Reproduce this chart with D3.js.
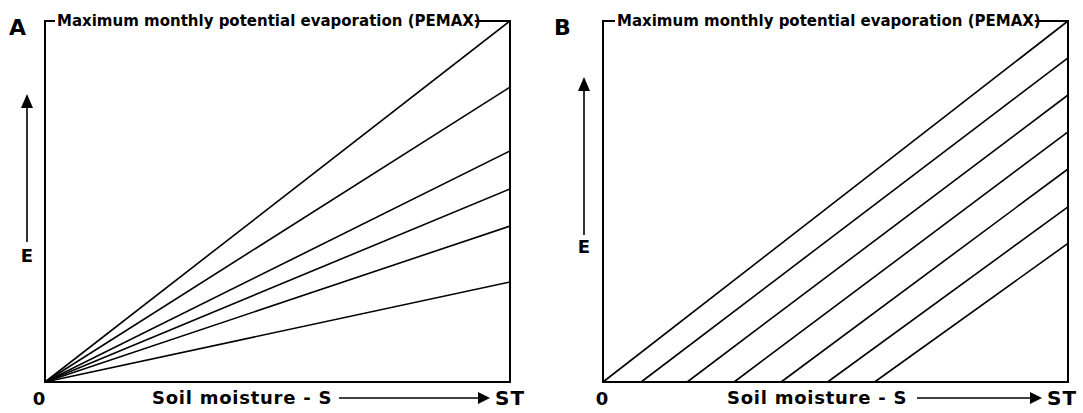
<!DOCTYPE html>
<html>
<head>
<meta charset="utf-8">
<script src="https://cdn.jsdelivr.net/npm/d3@7"></script>
<style>
  body { margin: 0; background: #fff; }
  svg { display: block; }
  text { font-family: "DejaVu Sans", Verdana, sans-serif; font-weight: bold; fill: #000; }
</style>
</head>
<body>
<svg id="chart" width="1083" height="413"></svg>
<script>
// Panel A: E grows linearly from S = 0 and reaches these fractions of PEMAX at S = ST
const aEndFractions = [1.0, 0.817, 0.64, 0.535, 0.432, 0.277];
// Panel B: parallel lines, each starting at a soil-moisture threshold (fraction of ST)
const bStartFractions = [0, 0.082, 0.181, 0.282, 0.383, 0.483, 0.584];
// ... and reaching these fractions of PEMAX at S = ST
const bEndFractions = [1.0, 0.898, 0.795, 0.693, 0.590, 0.485, 0.384];

const panelLetters = ["A", "B"];
const topLabel = "Maximum monthly potential evaporation (PEMAX)";
const xLabel = "Soil moisture - S";
const yLabel = "E";
const xStartLabel = "0";
const xEndLabel = "ST";

const aSeries = aEndFractions.map(f => [{ s: 0, e: 0 }, { s: 1, e: f }]);
const bSeries = bStartFractions.map((s0, i) => [{ s: s0, e: 0 }, { s: 1, e: bEndFractions[i] }]);

// layout for each panel
const panels = [
  { letter: panelLetters[0], series: aSeries, left: 45, right: 510, top: 21, bottom: 382,
    letterX: 9, titleX: 57, yArrowX: 27, yArrowTop: 94, yArrowBottom: 242, eY: 262,
    zeroX: 39, xLabelX: 152, xArrowStart: 339, xArrowEnd: 490, stX: 495 },
  { letter: panelLetters[1], series: bSeries, left: 603, right: 1068, top: 21, bottom: 382,
    letterX: 554, titleX: 617, yArrowX: 584, yArrowTop: 77, yArrowBottom: 235, eY: 253,
    zeroX: 602, xLabelX: 727, xArrowStart: 917, xArrowEnd: 1042, stX: 1047 }
];

const svg = d3.select("#chart");

panels.forEach(p => {
  const g = svg.append("g");
  const x = d3.scaleLinear().domain([0, 1]).range([p.left, p.right]);
  const y = d3.scaleLinear().domain([0, 1]).range([p.bottom, p.top]);
  const line = d3.line().x(d => x(d.s)).y(d => y(d.e));

  // E(S) lines
  g.selectAll("path.curve").data(p.series).join("path")
    .attr("class", "curve")
    .attr("d", line)
    .attr("fill", "none")
    .attr("stroke", "#000")
    .attr("stroke-width", 1.6);

  // frame
  g.append("rect")
    .attr("x", x(0)).attr("y", y(1))
    .attr("width", x(1) - x(0)).attr("height", y(0) - y(1))
    .attr("fill", "none").attr("stroke", "#000").attr("stroke-width", 2);

  // title on the top edge, with a white backing so the frame line breaks behind it
  const title = g.append("text")
    .attr("x", p.titleX).attr("y", 26)
    .attr("font-size", 15)
    .text(topLabel);
  const tw = title.node().getComputedTextLength();
  g.insert("rect", "text")
    .attr("x", p.titleX - 2).attr("y", 10)
    .attr("width", tw - 4).attr("height", 16)
    .attr("fill", "#fff");

  // panel letter
  g.append("text").attr("x", p.letterX).attr("y", 35)
    .attr("font-size", 22).text(p.letter);

  // vertical E arrow
  g.append("line")
    .attr("x1", p.yArrowX).attr("x2", p.yArrowX)
    .attr("y1", p.yArrowBottom).attr("y2", p.yArrowTop + 10)
    .attr("stroke", "#000").attr("stroke-width", 1.6);
  g.append("path")
    .attr("d", `M${p.yArrowX},${p.yArrowTop} L${p.yArrowX - 6},${p.yArrowTop + 14} L${p.yArrowX + 6},${p.yArrowTop + 14} Z`)
    .attr("fill", "#000");
  g.append("text").attr("x", p.yArrowX).attr("y", p.eY)
    .attr("text-anchor", "middle").attr("font-size", 18).text(yLabel);

  // bottom labels
  g.append("text").attr("x", p.zeroX).attr("y", 405)
    .attr("text-anchor", "middle").attr("font-size", 18).text(xStartLabel);
  g.append("text").attr("x", p.xLabelX).attr("y", 404)
    .attr("font-size", 18).attr("letter-spacing", 0.75).text(xLabel);
  g.append("line")
    .attr("x1", p.xArrowStart).attr("x2", p.xArrowEnd - 10)
    .attr("y1", 398).attr("y2", 398)
    .attr("stroke", "#000").attr("stroke-width", 1.6);
  g.append("path")
    .attr("d", `M${p.xArrowEnd},398 L${p.xArrowEnd - 12},392 L${p.xArrowEnd - 12},404 Z`)
    .attr("fill", "#000");
  g.append("text").attr("x", p.stX).attr("y", 405)
    .attr("font-size", 20).attr("letter-spacing", 1).text(xEndLabel);
});
</script>
</body>
</html>
